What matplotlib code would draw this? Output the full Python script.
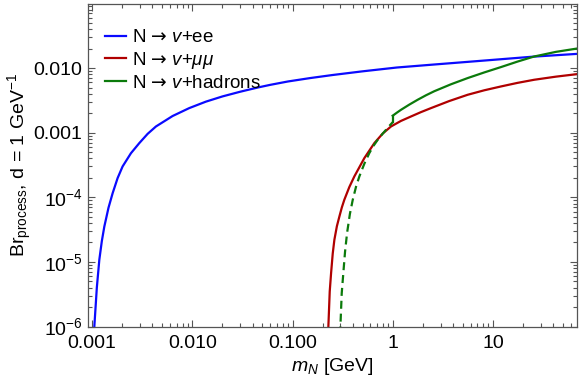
import matplotlib
matplotlib.use("Agg")
import matplotlib.pyplot as plt
from matplotlib.ticker import FixedLocator, NullFormatter

plt.rcParams["font.family"] = ["Liberation Sans", "DejaVu Sans"]
plt.rcParams["mathtext.fontset"] = "custom"
plt.rcParams["mathtext.rm"] = "Liberation Sans"
plt.rcParams["mathtext.it"] = "Liberation Sans:italic"
plt.rcParams["mathtext.bf"] = "Liberation Sans:bold"
plt.rcParams["mathtext.sf"] = "DejaVu Sans"

# N -> v + ee
ee_mass = [0.00102, 0.001052, 0.001114, 0.00118, 0.00125, 0.001324,
           0.001457, 0.001603, 0.001796, 0.002014, 0.00244, 0.002958,
           0.003581, 0.004335, 0.006353, 0.009311, 0.013646, 0.02, 0.03,
           0.045, 0.06, 0.09, 0.15, 0.25, 0.5, 1.1, 2.5, 5, 12, 25, 70]
ee_br = [2.0e-7, 1.0e-6, 3.98e-6, 1.08e-5, 2.10e-5, 3.53e-5, 6.89e-5,
         1.16e-4, 1.98e-4, 3.0e-4, 4.81e-4, 6.90e-4, 9.59e-4, 1.247e-3,
         1.81e-3, 2.40e-3, 3.02e-3, 3.64e-3, 4.3e-3, 5.0e-3, 5.5e-3, 6.2e-3,
         7.0e-3, 7.8e-3, 8.9e-3, 1.02e-2, 1.13e-2, 1.23e-2, 1.37e-2, 1.50e-2,
         1.66e-2]

# N -> v + mu mu
mumu_mass = [0.2255, 0.228, 0.2352, 0.2427, 0.2521, 0.2618, 0.2773, 0.2938,
             0.3108, 0.3289, 0.369, 0.414, 0.5212, 0.6561, 0.7943, 0.9616,
             1.209, 1.521, 1.914, 2.41, 3.673, 5.598, 8.204, 12.02, 17.62,
             25.82, 42.46, 69.8]
mumu_br = [3.0e-7, 1.0e-6, 3.48e-6, 6.71e-6, 1.35e-5, 2.20e-5, 3.57e-5,
           5.05e-5, 6.98e-5, 9.14e-5, 1.44e-4, 2.10e-4, 4.04e-4, 6.90e-4,
           9.68e-4, 1.247e-3, 1.52e-3, 1.78e-3, 2.08e-3, 2.40e-3, 3.09e-3,
           3.86e-3, 4.53e-3, 5.19e-3, 5.90e-3, 6.59e-3, 7.36e-3, 8.07e-3]

# N -> v + hadrons, below 1 GeV (dashed)
had_low_mass = [0.2985, 0.3006, 0.3099, 0.3195, 0.3345, 0.3503, 0.374,
                0.3993, 0.4306, 0.4645, 0.5212, 0.5844, 0.6434, 0.7084,
                0.7798, 0.8574, 0.9154, 1.0]
had_low_br = [3.0e-7, 1.0e-6, 3.27e-6, 5.94e-6, 1.44e-5, 2.79e-5, 5.53e-5,
              9.14e-5, 1.46e-4, 2.10e-4, 3.31e-4, 4.83e-4, 6.26e-4, 7.76e-4,
              9.33e-4, 1.109e-3, 1.25e-3, 1.45e-3]

# N -> v + hadrons, above 1 GeV (solid)
had_high_mass = [1.0, 1.1003, 1.2106, 1.4655, 1.7742, 2.1478, 2.6, 3.815,
                 5.598, 8.204, 12.02, 17.62, 25.82, 42.46, 69.8]
had_high_br = [1.83e-3, 2.04e-3, 2.26e-3, 2.72e-3, 3.23e-3, 3.79e-3,
               4.38e-3, 5.61e-3, 7.00e-3, 8.56e-3, 1.035e-2, 1.26e-2,
               1.51e-2, 1.78e-2, 2.01e-2]

xticks = [0.001, 0.01, 0.1, 1, 10]
xlabels = ["0.001", "0.010", "0.100", "1", "10"]
yticks = [1e-6, 1e-5, 1e-4, 1e-3, 1e-2]
ylabels = ["$10^{-6}$", "$10^{-5}$", "$10^{-4}$", "0.001", "0.010"]

blue = "#0a0aff"
red = "#b00000"
green = "#0b7a0b"
arrow = "$\\mathsf{→}$"

fig = plt.figure(figsize=(5.81, 3.83), dpi=100)
ax = fig.add_axes([0.1515, 0.1475, 0.8415, 0.842])

ax.plot(ee_mass, ee_br, color=blue, lw=1.6, label=f"N {arrow} $v$+ee")
ax.plot(mumu_mass, mumu_br, color=red, lw=1.6,
        label=f"N {arrow} $v$+$\\mu\\mu$")
ax.plot(had_high_mass, had_high_br, color=green, lw=1.6,
        label=f"N {arrow} $v$+hadrons")
ax.plot(had_low_mass, had_low_br, color=green, lw=1.6, dashes=(3.6, 2.2))
# little step at 1 GeV
ax.plot([had_low_mass[-1], had_high_mass[0]],
        [had_low_br[-1], had_high_br[0]], color=green, lw=1.6)

ax.set_xscale("log")
ax.set_yscale("log")
ax.set_xlim(0.00091, 69)
ax.set_ylim(1e-6, 0.098)

ax.xaxis.set_major_locator(FixedLocator(xticks))
ax.set_xticklabels(xlabels)
ax.yaxis.set_major_locator(FixedLocator(yticks))
ax.set_yticklabels(ylabels)
ax.xaxis.set_minor_formatter(NullFormatter())
ax.yaxis.set_minor_formatter(NullFormatter())

frame = "#555555"
for s in ax.spines.values():
    s.set_color(frame)
    s.set_linewidth(0.9)
ax.tick_params(which="both", direction="in", top=True, right=True,
               color=frame, labelsize=14, labelcolor="black", width=0.8)
ax.tick_params(which="major", length=5, pad=4)
ax.tick_params(which="minor", length=2.8)
ax.tick_params(axis="x", which="major", pad=6)

ax.set_xlabel("$m_N$ [GeV]", fontsize=14, labelpad=3)
ax.set_ylabel("Br$_{\\mathrm{process}}$, d = 1 GeV$^{-1}$", fontsize=14,
              labelpad=0)

ax.legend(loc="upper left", bbox_to_anchor=(0.0, 0.975), frameon=False,
          fontsize=13.5, handlelength=1.1, handletextpad=0.35,
          labelspacing=0.2, borderaxespad=0.5)

fig.savefig("out.png", dpi=100)
